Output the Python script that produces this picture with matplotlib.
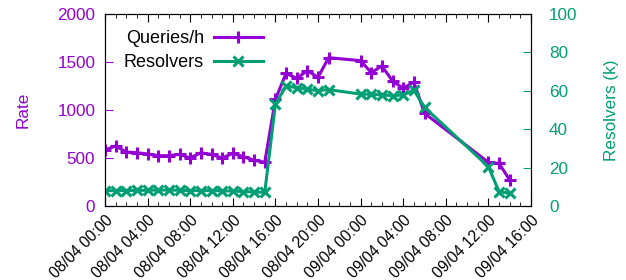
import matplotlib
matplotlib.use("Agg")
import matplotlib.pyplot as plt
import matplotlib.dates as mdates
from datetime import datetime, timedelta

# ore dall'inizio (08/04 00:00)
hours = [0, 1, 2, 3, 4, 5, 6, 7, 8, 9, 10, 11, 12, 13, 14, 15,
         16, 17, 18, 19, 20, 21, 24, 25, 26, 27, 28, 29, 30, 36, 37, 38]
queries = [583, 625, 562, 555, 542, 524, 524, 538, 500, 555, 538, 500, 548, 514, 476, 455,
           1111, 1382, 1330, 1410, 1340, 1545, 1514, 1389, 1458, 1302, 1226, 1292, 966, 455, 444, 271]
resolvers = [8.0, 8.0, 8.0, 8.1, 8.2, 8.3, 8.3, 8.2, 8.0, 8.0, 8.0, 7.9, 7.8, 7.5, 7.3, 7.1,
             53.0, 62.5, 61.6, 60.8, 60.1, 60.6, 58.3, 58.2, 57.8, 57.5, 57.8, 60.4, 51.4, 20.5, 7.5, 6.6]

start = datetime(2020, 4, 8, 0, 0)
times = [start + timedelta(hours=h) for h in hours]

purple = "#9400d3"
green = "#009e73"

plt.rcParams["font.family"] = ["Liberation Sans", "DejaVu Sans"]
plt.rcParams["font.size"] = 12.3

fig = plt.figure(figsize=(6.26, 2.8), dpi=100)
ax = fig.add_axes([105 / 626, 1 - 206 / 280, 426 / 626, 192 / 280])
ax2 = ax.twinx()

l1, = ax.plot(times, queries, color=purple, lw=2.2, marker="+", ms=8, mew=2.2, label="Queries/h")
l2, = ax2.plot(times, resolvers, color=green, lw=2.2, marker="x", ms=7, mew=2.2, label="Resolvers")

ax.set_xlim(start, start + timedelta(hours=40))
ax.set_ylim(0, 2000)
ax2.set_ylim(0, 100)
ax.set_yticks([0, 500, 1000, 1500, 2000])
ax2.set_yticks([0, 20, 40, 60, 80, 100])

ax.xaxis.set_major_locator(mdates.HourLocator(byhour=range(0, 24, 4)))
ax.xaxis.set_minor_locator(mdates.HourLocator())
ax.xaxis.set_major_formatter(mdates.DateFormatter("%d/%m %H:%M"))
for lab in ax.get_xticklabels():
    lab.set_rotation(45)
    lab.set_ha("right")
    lab.set_rotation_mode("anchor")
    lab.set_fontsize(11.2)

ax.tick_params(axis="x", which="both", direction="in", top=True)
ax.tick_params(axis="x", which="major", length=6, pad=5)
ax.tick_params(axis="x", which="minor", length=3)
ax.tick_params(axis="y", direction="in", length=6, colors=purple, right=False, pad=7)
ax2.tick_params(axis="y", direction="in", length=6, colors=green, left=False, pad=13)
for t in ax.yaxis.get_ticklines() + ax2.yaxis.get_ticklines():
    t.set_color("black")

ax.set_ylabel("Rate", color=purple, labelpad=19)
ax2.set_ylabel("Resolvers (k)", color=green, labelpad=19)

ax.legend(handles=[l1, l2], loc="upper left", markerfirst=False, frameon=False,
          handlelength=2.7, handletextpad=0.55, fontsize=13, borderaxespad=0.5,
          labelspacing=0.4, bbox_to_anchor=(0.006, 1.0))

fig.savefig("out.png", dpi=100)
